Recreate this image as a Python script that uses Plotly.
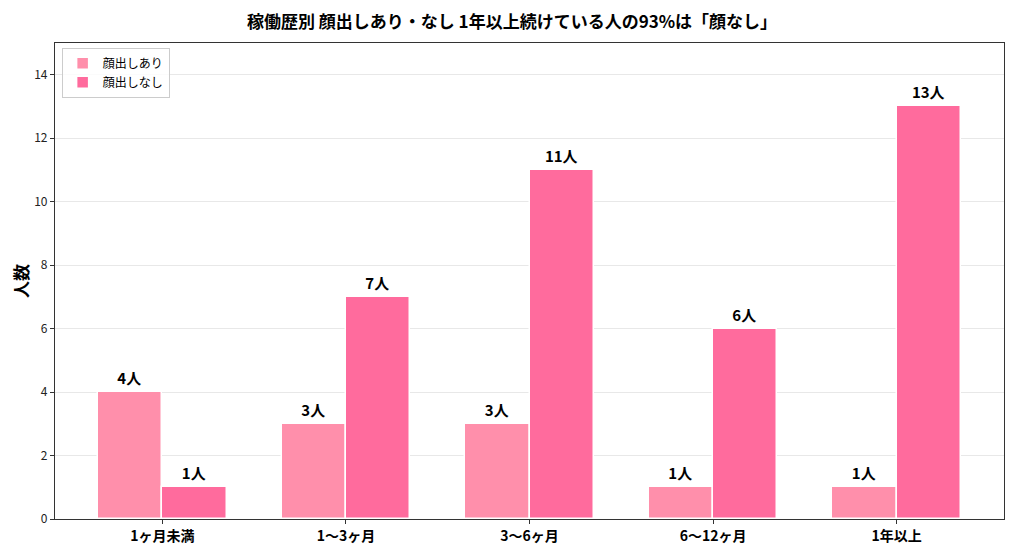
import plotly.graph_objects as go

categories = ["1ヶ月未満", "1〜3ヶ月", "3〜6ヶ月", "6〜12ヶ月", "1年以上"]
face_on = [4, 3, 3, 1, 1]
face_off = [1, 7, 11, 6, 13]
series_names = ["顔出しあり", "顔出しなし"]
colors = ["#FF8FAB", "#FF6B9D"]

FONT = "Noto Sans CJK JP"
x_idx = list(range(len(categories)))

fig = go.Figure()
for vals, name, col, off in [(face_on, series_names[0], colors[0], -0.35),
                             (face_off, series_names[1], colors[1], 0.0)]:
    fig.add_trace(go.Bar(
        x=x_idx, y=vals, name=name, width=0.35, offset=off,
        marker=dict(color=col, line=dict(color="white", width=1.5)),
        text=[f"<b>{v}人</b>" for v in vals], textposition="outside",
        textfont=dict(family=FONT, size=15, color="black"),
        cliponaxis=False,
    ))

fig.update_layout(
    width=1008, height=537,
    paper_bgcolor="white", plot_bgcolor="white",
    margin=dict(l=47, r=12, t=35, b=26),
    font=dict(family=FONT, color="#222"),
    title=dict(text="<b>稼働歴別 顔出しあり・なし 1年以上続けている人の93%は「顔なし」</b>",
               x=0.5, xanchor="center", y=0.974, yanchor="middle",
               font=dict(family=FONT, size=17, color="black")),
    showlegend=True,
    legend=dict(x=0.007, y=0.99, xanchor="left", yanchor="top",
                bgcolor="rgba(255,255,255,0.8)", bordercolor="#ccc", borderwidth=1,
                font=dict(family=FONT, size=12, color="black")),
    bargap=0, barmode="overlay",
)
fig.update_xaxes(
    range=[-0.585, 4.585], tickmode="array", tickvals=x_idx,
    ticktext=[f"<b>{c}</b>" for c in categories],
    tickfont=dict(family=FONT, size=14, color="black"),
    showline=True, linecolor="#333", linewidth=1.2, mirror=True,
    ticks="outside", ticklen=4, tickcolor="#333", showgrid=False, zeroline=False,
    automargin=False,
)
fig.update_yaxes(
    range=[0, 15], tickvals=[0, 2, 4, 6, 8, 10, 12, 14],
    tickfont=dict(family=FONT, size=12, color="#222"),
    title=dict(text="<b>人数</b>", font=dict(family=FONT, size=17, color="black"), standoff=16),
    showline=True, linecolor="#333", linewidth=1.2, mirror=True,
    ticks="outside", ticklen=4, tickcolor="#333",
    showgrid=True, gridcolor="#e8e8e8", gridwidth=1, zeroline=False,
    automargin=False,
)

fig.write_html("out.html")
